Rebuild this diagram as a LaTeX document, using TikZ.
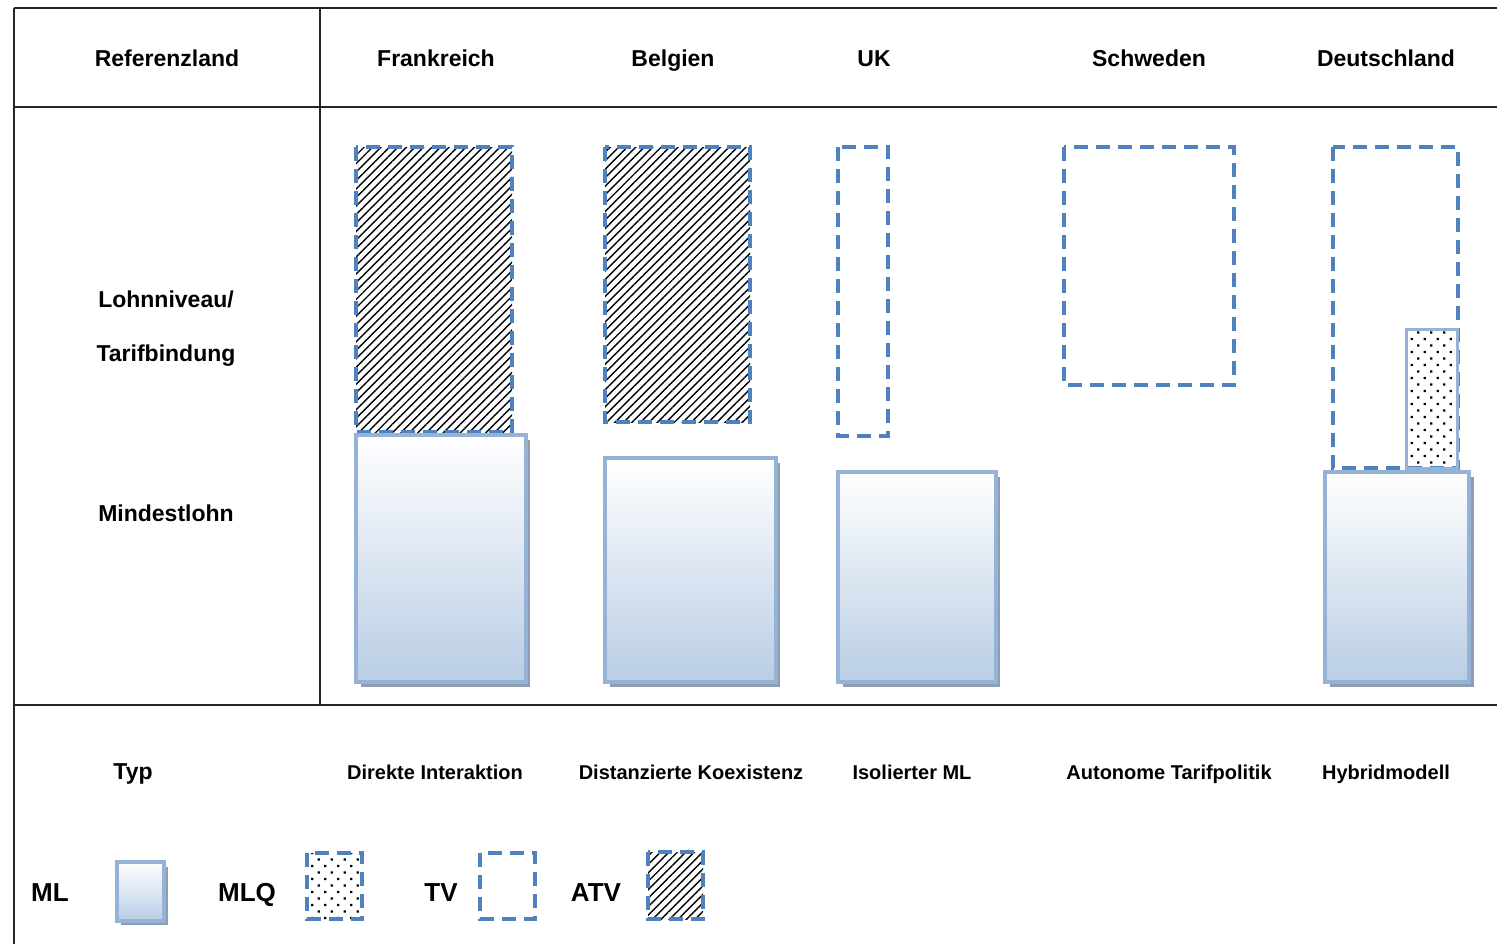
\documentclass[tikz,border=0pt]{standalone}
\usepackage{fontspec}
\setmainfont{Liberation Sans}
\usetikzlibrary{patterns.meta}
\definecolor{tvblue}{HTML}{4F81BD}
\definecolor{mlblue}{HTML}{95B3D7}
\definecolor{mlfill}{HTML}{B9CDE5}
\definecolor{mlshadow}{HTML}{8F9DB2}

\tikzset{
  head/.style={font=\bfseries\fontsize{11.5}{13}\selectfont, text height=9.5pt, text depth=1.5pt},
  typname/.style={font=\bfseries\fontsize{10}{12}\selectfont, text height=8.5pt, text depth=1pt},
  legname/.style={font=\bfseries\fontsize{13}{15}\selectfont, text height=9.5pt, text depth=0pt},
  gridline/.style={draw=black!85, line width=0.8pt},
  tvbox/.style={draw=tvblue, line width=2pt, dash pattern=on 7pt off 4pt},
  atvbox/.style={tvbox, pattern={Lines[angle=45,distance=3pt,line width=0.7pt]}},
  mlqbox/.style={pattern={Dots[angle=45,distance=4.6pt,radius=0.8pt]}},
  mlbox/.style={draw=mlblue, line width=2pt, top color=white, bottom color=mlfill},
  mlshade/.style={fill=mlshadow},
}

\begin{document}
\begin{tikzpicture}[x=0.5pt,y=-0.5pt]
\useasboundingbox (0,0) rectangle (1497,944);

\draw[gridline] (14,8) -- (1497,8);
\draw[gridline] (14,107) -- (1497,107);
\draw[gridline] (14,705) -- (1497,705);
\draw[gridline] (14,8) -- (14,944);
\draw[gridline] (320,8) -- (320,705);

\node[head] (ref) at (167,58) {Referenzland};
\node[head] (fr) at (436,58) {Frankreich};
\node[head] (be) at (673,58) {Belgien};
\node[head] (uk) at (874,58) {UK};
\node[head] (se) at (1149,58) {Schweden};
\node[head] (de) at (1386,58) {Deutschland};

\node[head] (lohn) at (166,299) {Lohnniveau/};
\node[head] (tarif) at (166,353) {Tarifbindung};
\node[head] (mind) at (166,513) {Mindestlohn};

\draw[atvbox] (356,147) rectangle (512,432);
\fill[mlshade] (361,440) rectangle (530,687);
\draw[mlbox] (356,435) rectangle (526,682);

\draw[atvbox] (605,147) rectangle (750,422);
\fill[mlshade] (610,463) rectangle (780,687);
\draw[mlbox] (605,458) rectangle (776,682);

\draw[tvbox] (838,147) rectangle (888,436);
\fill[mlshade] (843,477) rectangle (1000,687);
\draw[mlbox] (838,472) rectangle (996,682);

\draw[tvbox] (1064,147) rectangle (1234,385);

\draw[tvbox] (1333,147) rectangle (1458,468);
\draw[mlqbox, draw=mlblue, line width=1.5pt] (1406,329) rectangle (1457,468);
\fill[mlshade] (1330,477) rectangle (1474,687);
\draw[mlbox] (1325,472) rectangle (1469,682);

\node[head] (typ) at (133,771) {Typ};
\node[typname] (t1) at (435,772) {Direkte Interaktion};
\node[typname] (t2) at (691,772) {Distanzierte Koexistenz};
\node[typname] (t3) at (912,772) {Isolierter ML};
\node[typname] (t4) at (1169,772) {Autonome Tarifpolitik};
\node[typname] (t5) at (1386,772) {Hybridmodell};

\node[legname] (lml) at (50,892) {ML};
\fill[mlshade] (121,867) rectangle (168,925);
\draw[mlbox] (117,862) rectangle (164,921);

\node[legname] (lmlq) at (247,892) {MLQ};
\draw[mlqbox, tvbox] (307,853) rectangle (362,919);

\node[legname] (ltv) at (441,892) {TV};
\draw[tvbox] (480,853) rectangle (535,919);

\node[legname] (latv) at (596,892) {ATV};
\draw[atvbox] (648,852) rectangle (703,919);
\end{tikzpicture}
\end{document}
